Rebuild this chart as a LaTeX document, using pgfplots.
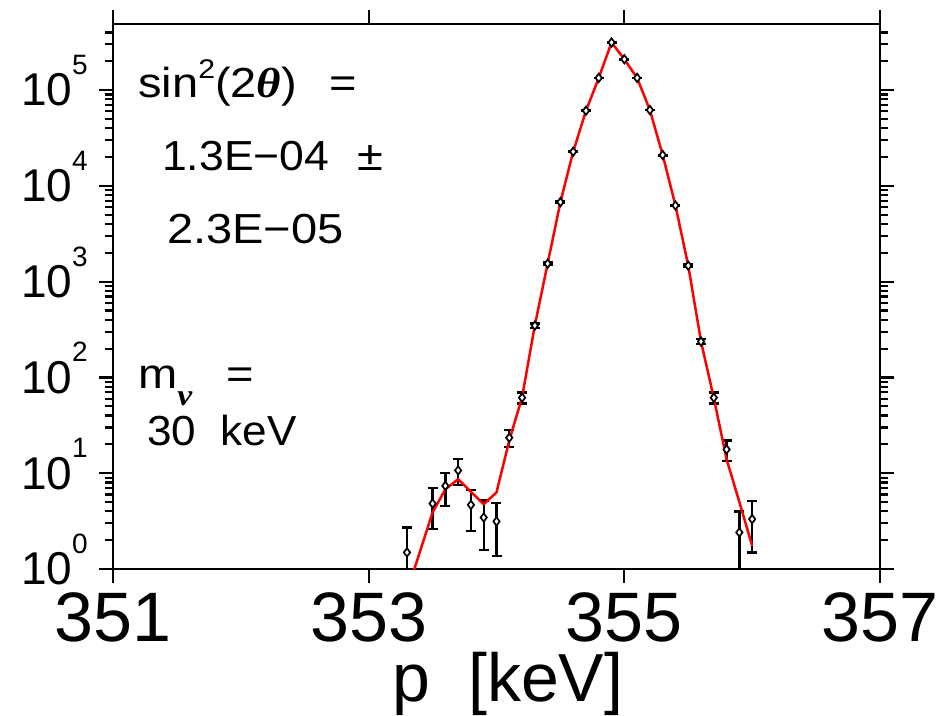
\documentclass[border=0pt]{standalone}
\usepackage{fontspec}
\setmainfont{Liberation Sans}
\newfontfamily\greekfont{Liberation Serif}
\usepackage{pgfplots}
\usepackage{pgfplotstable}
\pgfplotsset{compat=1.18}

% decade label: "10" with a raised exponent that does not change the box height
\newcommand\tp[1]{10\smash{\raisebox{0.68em}{\fontsize{28}{28}\selectfont #1}}}
\newcommand\bgr[1]{{\greekfont\bfseries\itshape #1}}
% annotation text, set a little wider than the font's natural width
\newcommand\wide[1]{\scalebox{1.12}[1]{#1}}

% measured spectrum: momentum, counts, upper and lower error
\pgfplotstableread{
x      y       ep     em
353.3  1.49    1.23   1.19
353.5  4.83    2.15   2.22
353.6  7.38    2.62   2.82
353.7  10.7    3.3    3.15
353.8  4.67    2.03   2.17
353.9  3.45    1.75   1.86
354.0  3.14    1.73   1.78
354.1  23.5    4.8    4.8
354.2  61.5    7.8    7.8
354.3  348     19     19
354.4  1540    39     39
354.5  6770    82     82
354.6  22750   151    151
354.7  60900   247    247
354.8  134000  366    366
354.9  314000  560    560
355.0  210000  458    458
355.1  134000  366    366
355.2  61900   249    249
355.3  21000   145    145
355.4  6240    79     79
355.5  1468    38     38
355.6  237     15     15
355.7  61.5    7.8    7.8
355.8  17.7    4.2    4.2
355.9  2.41    1.58   2.11
356.0  3.32    1.83   1.83
}\counts

% fitted spectrum
\pgfplotstableread{
x      y
353.3  0.58
353.4  1.5
353.5  3.9
353.6  6.8
353.7  8.66
353.8  6.4
353.9  4.75
354.0  6.3
354.1  22
354.2  62
354.3  350
354.4  1540
354.5  6770
354.6  22750
354.7  60900
354.8  134000
354.9  314000
355.0  210000
355.1  134000
355.2  61900
355.3  21000
355.4  6240
355.5  1468
355.6  237
355.7  61
355.8  14
355.9  5.0
356.0  1.75
}\fitcurve

\begin{document}
\begin{tikzpicture}
\useasboundingbox (-113pt,-146pt) rectangle (826pt,569pt);
\begin{axis}[
  at={(0pt,0pt)}, anchor=south west,
  scale only axis,
  width=767pt, height=545pt,
  xmin=351, xmax=357,
  ymode=log, log basis y=10,
  ymin=1, ymax=4.9e5,
  xtick={351,353,355,357},
  xticklabels={351,353,355,357},
  minor xtick={},
  ytick={1,10,100,1000,10000,100000},
  yticklabels={\tp{0},\tp{1},\tp{2},\tp{3},\tp{4},\tp{5}},
  minor ytick={2,3,4,5,6,7,8,9,
    20,30,40,50,60,70,80,90,
    200,300,400,500,600,700,800,900,
    2000,3000,4000,5000,6000,7000,8000,9000,
    20000,30000,40000,50000,60000,70000,80000,90000,
    200000,300000,400000},
  tick align=outside,
  major tick length=14pt,
  minor tick length=8pt,
  axis line style={line width=2.4pt},
  every tick/.style={black, line width=2.2pt},
  xticklabel style={font=\fontsize{70}{70}\selectfont, inner sep=0pt, anchor=north, yshift=-9pt},
  yticklabel style={font=\fontsize{46}{46}\selectfont, inner sep=0pt, anchor=east, xshift=-11pt},
  xlabel={p\ \ [keV]},
  xlabel style={font=\fontsize{68}{68}\selectfont, inner sep=0pt,
    at={(axis description cs:0.515,0)}, anchor=base, yshift=-132pt},
]
\addplot[only marks, mark=diamond*, mark size=4.2pt,
  mark options={fill=white, draw=black, line width=1.7pt},
  error bars/.cd, y dir=both, y explicit,
  error bar style={line width=2.4pt, black},
  error mark options={rotate=90, line width=2.4pt, mark size=5pt, black}]
  table[x=x, y=y, y error plus=ep, y error minus=em] {\counts};
\addplot[red, line width=2.5pt, no marks] table[x=x, y=y] {\fitcurve};

\begin{scope}[every node/.style={inner sep=0pt, anchor=base west, font=\fontsize{42}{42}\selectfont}]
\node at (axis description cs:0.0326,0.866) {\wide{sin\raisebox{0.45em}{\fontsize{27}{27}\selectfont 2}(2\bgr{θ})}\hspace{32pt}\wide{=}};
\node at (axis description cs:0.0639,0.732) {\scalebox{1.06}[1]{1.3E−04}\hspace{28pt}\wide{±}};
\node at (axis description cs:0.0704,0.598) {\wide{2.3E−05}};
\node at (axis description cs:0.0326,0.332) {\wide{m\raisebox{-0.42em}{\fontsize{30}{30}\selectfont\bgr{ν}}}\hspace{34pt}\wide{=}};
\node at (axis description cs:0.0443,0.2275) {\scalebox{1.05}[1]{30\ \ keV}};
\end{scope}
\end{axis}
\end{tikzpicture}
\end{document}
